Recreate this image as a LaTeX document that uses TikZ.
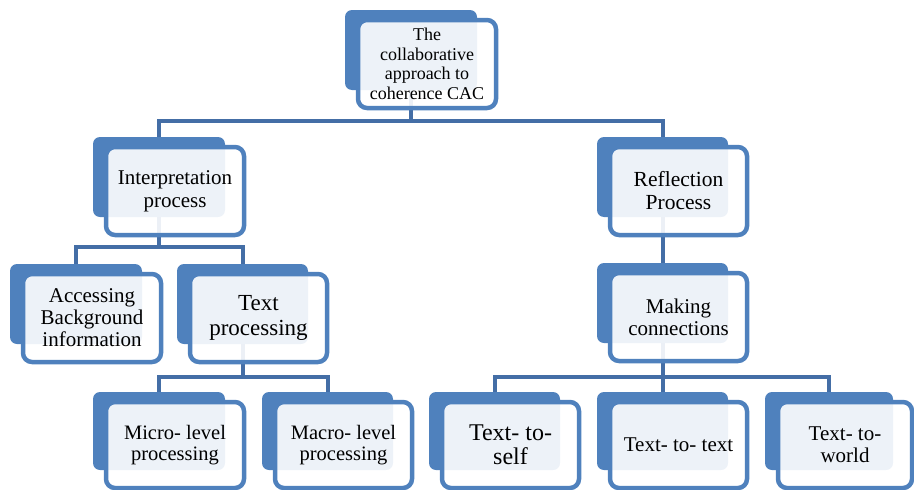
\documentclass[tikz,border=0pt]{standalone}
\usepackage{fontspec}
\setmainfont{Liberation Serif}
\definecolor{boxblue}{RGB}{79,129,189}
\definecolor{connblue}{RGB}{68,110,166}
\pgfdeclarelayer{bg}\pgfdeclarelayer{mid}\pgfsetlayers{bg,mid,main}
\tikzset{
 backbox/.style={draw=none, fill=boxblue, rounded corners=7pt, inner sep=0pt},
 frontbox/.style={draw=boxblue, line width=4.5pt, fill=white, fill opacity=0.9, text opacity=1, rounded corners=9pt, inner sep=0pt, align=center},
 conn/.style={draw=connblue, line width=4pt},
}
\newcommand\cacbox[7]{%
 \begin{pgfonlayer}{bg}
 \node[backbox, minimum width={(#4-#2)*1pt}, minimum height={(#5-#3)*1pt}] (#1-b) at ({(#2+#4)/2},{(#3+#5)/2}) {};
 \end{pgfonlayer}
 \node[frontbox, minimum width={(#4-#2+6)*1pt}, minimum height={(#5-#3+8)*1pt}, font={#6}] (#1) at ({(#2+#4)/2+16},{(#3+#5)/2+14}) {#7};
}
\begin{document}
\begin{tikzpicture}[x=1pt,y=-1pt]
\useasboundingbox (0,0) rectangle (914,490);
\cacbox{root}{345}{10}{477}{90}{\fontsize{18}{19.5}\selectfont}{The\\collaborative\\approach to\\coherence CAC}
\cacbox{interp}{93}{137}{225}{217}{\fontsize{21}{23}\selectfont}{Interpretation\\process}
\cacbox{refl}{597}{137}{728}{217}{\fontsize{21.5}{23}\selectfont}{Reflection\\Process}
\cacbox{access}{10}{264}{142}{344}{\fontsize{21}{22}\selectfont}{Accessing\\Background\\information}
\cacbox{textproc}{177}{264}{308}{344}{\fontsize{23}{25}\selectfont}{Text\\processing}
\cacbox{making}{597}{263}{728}{343}{\fontsize{21}{22}\selectfont}{Making\\connections}
\cacbox{micro}{93}{392}{225}{470}{\fontsize{20.5}{21.5}\selectfont}{Micro- level\\processing}
\cacbox{macro}{262}{392}{393}{470}{\fontsize{20.5}{21.5}\selectfont}{Macro- level\\processing}
\cacbox{self}{429}{392}{560}{470}{\fontsize{24}{24}\selectfont}{Text- to-\\self}
\cacbox{ttext}{597}{392}{728}{470}{\fontsize{21}{22}\selectfont}{Text- to- text}
\cacbox{world}{765}{392}{893}{470}{\fontsize{21}{22}\selectfont}{Text- to-\\world}
\begin{pgfonlayer}{mid}
\draw[conn] (root-b.south) -- ++(0,31) -| (interp-b.north);
\draw[conn] (root-b.south) -- ++(0,31) -| (refl-b.north);
\draw[conn] (interp-b.south) -- ++(0,30) -| (access-b.north);
\draw[conn] (interp-b.south) -- ++(0,30) -| (textproc-b.north);
\draw[conn] (textproc-b.south) -- ++(0,33) -| (micro-b.north);
\draw[conn] (textproc-b.south) -- ++(0,33) -| (macro-b.north);
\draw[conn] (refl-b.south) -- (making-b.north);
\draw[conn] (making-b.south) -- ++(0,34) -| (self-b.north);
\draw[conn] (making-b.south) -- ++(0,34) -| (ttext-b.north);
\draw[conn] (making-b.south) -- ++(0,34) -| (world-b.north);
\end{pgfonlayer}
\end{tikzpicture}
\end{document}
